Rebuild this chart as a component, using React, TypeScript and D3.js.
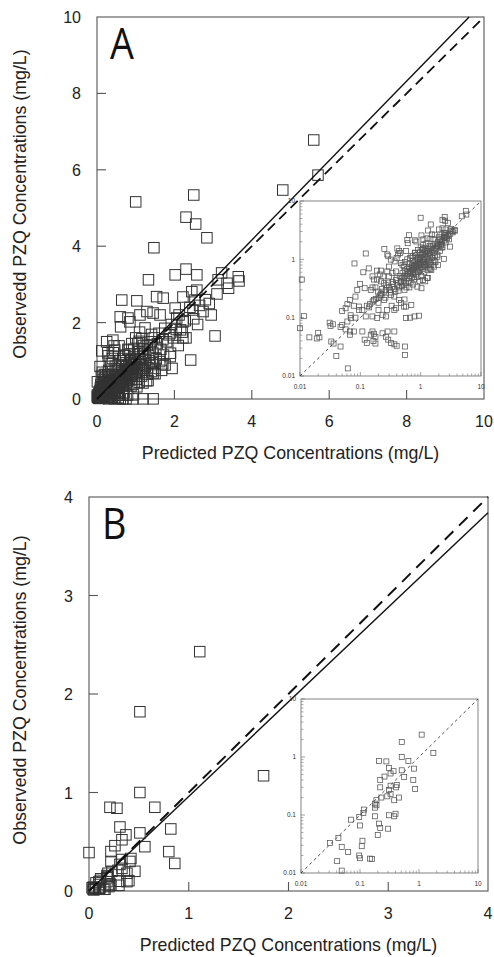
import React from "react";
import * as d3 from "d3";

// Panel A: [predicted, observed] (mg/L)
const predA: number[] = [
  5.6, 5.71, 4.8, 1.0, 2.5, 2.3, 2.55, 2.84, 1.47,
  1.33, 2.02, 2.3, 2.58, 3.13, 3.22, 3.36, 3.65, 3.67,
  0.64, 1.03, 3.05, 2.42, 2.74, 0.6, 0.61, 0.85,
  1.54, 1.71, 2.22, 2.45, 2.58, 2.53, 2.48, 2.02, 1.29, 1.45, 1.63, 1.11, 0.8, 2.06, 2.22, 2.16, 2.22, 1.89, 1.89, 1.76, 1.45, 1.19, 1.03, 0.77,
  0.08, 0.25, 0.41, 0.46,
  0.67, 0.93, 1.19, 1.45, 0.75, 0.6, 0.3, 0.45,
  1.24, 1.41, 1.16, 1.09, 1.94, 1.67, 1.5, 1.28, 1.02, 0.81, 0.74, 0.67, 0.57, 0.44, 0.42, 0.4, 0.47, 0.53, 0.37, 0.32, 0.3, 0.28, 0.29,
  0.123, 0.112, 0.138, 0.188, 0.219, 0.178, 0.159, 0.248, 0.265, 0.197, 0.149, 0.118, 0.099, 0.089, 0.083, 0.067, 0.061, 0.05, 0.057, 0.078,
  0.095, 0.108, 0.128, 0.145, 0.169, 0.2, 0.225, 0.248, 0.322, 0.366, 0.44, 0.54, 0.65, 0.74, 0.88, 0.96, 1.09, 1.32, 1.41, 1.19,
  1.09, 0.96, 0.84, 0.74, 0.63, 0.54, 0.47, 0.4, 0.34, 0.3, 0.28, 0.34, 0.39, 0.24, 0.21, 0.19, 0.169, 0.159, 0.219,
  0.57, 0.67, 0.79, 0.94, 0.39, 0.33, 0.277, 0.366, 0.47, 0.53, 0.57, 0.7, 0.54, 0.233, 0.265, 0.19, 0.159, 0.123, 0.095, 0.083,
  0.069, 0.07, 0.061, 0.05, 0.057, 0.047, 0.035, 0.031, 0.032, 0.067, 0.067, 0.078, 0.108, 0.159, 0.169, 0.233, 0.283, 0.366, 0.265, 0.29,
  0.322, 0.366, 0.4, 0.55, 0.55, 0.178, 0.149, 0.118, 0.128, 0.165, 0.178, 0.047, 0.036, 0.04, 0.02, 0.019, 0.021, 0.0143, 0.0107, 0.01,
  0.0117, 0.033, 0.062, 0.2,
  0.45, 0.48, 0.5, 0.52, 0.55, 0.58, 0.6, 0.62, 0.64, 0.66, 0.68, 0.7, 0.72, 0.74, 0.76, 0.78, 0.8, 0.82, 0.84, 0.86,
  0.88, 0.9, 0.92, 0.94, 0.96, 0.98, 1.0, 1.02, 1.05, 1.08, 1.1, 1.12, 1.15, 1.18, 1.2, 1.23, 1.26, 1.3, 1.33, 1.36,
  1.4, 1.44, 1.48, 1.52, 1.56, 1.6, 1.65, 1.7, 1.75, 1.8, 1.86, 1.92, 1.98, 2.05, 2.12, 2.2, 2.28, 2.4, 2.5, 2.65,
  2.8, 2.95, 3.1, 0.35, 0.37, 0.39, 0.41, 0.43, 0.46, 0.49, 0.53, 0.57, 0.6, 0.63, 0.67, 0.71, 0.75, 0.79, 0.83, 0.87,
  0.91, 0.95, 0.99, 1.04, 1.09, 1.14, 1.19, 1.25, 1.31, 1.38, 1.45, 1.53, 1.62, 1.72, 0.5, 0.55, 0.6, 0.7, 0.8, 0.9,
  1.0, 1.1, 1.2, 0.65, 0.75, 0.85, 0.95, 1.05, 0.3, 0.27, 0.25, 0.23, 0.32, 0.34, 0.29, 0.21, 0.18, 0.2, 0.16, 0.14,
  0.22, 0.26, 0.31, 0.38, 0.44, 0.52, 0.58, 0.68, 0.78, 0.88, 1.15, 1.3, 1.5, 1.7, 1.9, 2.1, 2.3, 2.6, 2.9, 3.4,
];
const obsA: number[] = [
  6.78, 5.86, 5.47, 5.16, 5.34, 4.76, 4.58, 4.22, 3.96,
  3.12, 3.25, 3.4, 3.25, 3.12, 3.3, 3.03, 3.2, 3.09,
  2.59, 2.57, 1.65, 1.02, 2.29, 2.15, 1.89, 2.02,
  2.68, 2.64, 2.67, 2.81, 2.85, 2.59, 2.33, 2.38, 2.29, 2.25, 2.2, 2.2, 2.12, 2.12, 2.02, 1.81, 1.6, 1.73, 1.11, 0.89, 0.68, 0.42, 0.32, 0.5,
  0.85, 1.5, 1.54, 1.28,
  0.004, 0.003, 0.004, 0.004, 0.004, 0.005, 0.004, 0.005,
  1.86, 1.69, 1.58, 1.51, 0.8, 0.75, 0.66, 0.48, 0.52, 1.28, 1.13, 1.06, 1.39, 1.39, 1.21, 1.06, 0.86, 0.75, 0.92, 0.99, 0.75, 1.21, 1.13,
  1.26, 0.6, 0.7, 0.64, 0.42, 0.33, 0.33, 0.39, 0.3, 0.28, 0.3, 0.32, 0.38, 0.3, 0.23, 0.2, 0.17, 0.13, 0.145, 0.16,
  0.155, 0.135, 0.16, 0.17, 0.2, 0.22, 0.245, 0.2, 0.245, 0.23, 0.2, 0.3, 0.33, 0.37, 0.34, 0.42, 0.44, 0.48, 0.72, 0.8,
  0.91, 0.99, 0.8, 0.72, 0.62, 0.52, 0.41, 0.48, 0.41, 0.51, 0.62, 0.58, 0.62, 0.51, 0.55, 0.45, 0.45, 0.51, 0.64,
  0.099, 0.1, 0.105, 0.108, 0.145, 0.16, 0.135, 0.135, 0.178, 0.155, 0.155, 0.165, 0.205, 0.112, 0.105, 0.099, 0.105, 0.105, 0.135, 0.1,
  0.11, 0.098, 0.086, 0.075, 0.063, 0.069, 0.077, 0.082, 0.072, 0.051, 0.058, 0.058, 0.058, 0.058, 0.053, 0.054, 0.058, 0.058, 0.047, 0.042,
  0.037, 0.035, 0.033, 0.032, 0.023, 0.047, 0.051, 0.042, 0.037, 0.04, 0.036, 0.032, 0.036, 0.022, 0.055, 0.044, 0.046, 0.046, 0.45, 0.066,
  0.106, 0.039, 0.0135, 0.135,
  0.52, 0.47, 0.58, 0.49, 0.63, 0.55, 0.68, 0.57, 0.74, 0.61, 0.7, 0.64, 0.79, 0.66, 0.85, 0.72, 0.77, 0.9, 0.7, 0.95,
  0.81, 1.02, 0.86, 0.78, 1.1, 0.91, 1.05, 0.84, 1.18, 0.97, 1.25, 1.03, 0.9, 1.32, 1.1, 1.2, 1.02, 1.4, 1.15, 1.28,
  1.5, 1.22, 1.6, 1.35, 1.45, 1.72, 1.3, 1.55, 1.85, 1.5, 1.68, 1.95, 1.6, 1.82, 2.2, 1.75, 2.05, 2.4, 2.1, 2.45,
  2.6, 2.2, 2.75, 0.38, 0.31, 0.44, 0.36, 0.29, 0.4, 0.35, 0.43, 0.39, 0.47, 0.42, 0.52, 0.48, 0.56, 0.6, 0.55, 0.64,
  0.6, 0.7, 0.66, 0.74, 0.69, 0.8, 0.76, 0.86, 0.82, 0.95, 0.9, 1.05, 0.98, 1.15, 0.8, 0.9, 1.0, 1.15, 1.3, 1.45,
  1.6, 1.75, 1.4, 0.85, 0.95, 1.18, 1.3, 1.45, 0.33, 0.36, 0.28, 0.31, 0.27, 0.34, 0.4, 0.24, 0.21, 0.18, 0.19, 0.15,
  0.26, 0.22, 0.3, 0.28, 0.33, 0.37, 0.33, 0.4, 0.45, 0.5, 0.6, 0.65, 0.8, 0.92, 1.2, 1.4, 1.6, 1.95, 2.5, 2.9,
];

// Panel B
const predB: number[] = [
  1.11, 1.75, 0.51, 0.51, 0.66, 0.82, 0.51, 0.56, 0.8, 0.86, 0.21, 0.28, 0.31, 0.37, 0.33, 0.26, 0.22, 0.33, 0.42, 0.22,
  0.31, 0.41, 0.19, 0.23, 0.29, 0.33, 0.46, 0.38, 0.18, 0.19, 0.18, 0.117, 0.097, 0.114, 0.07, 0.18, 0.31, 0.38, 0.4, 0.21,
  0.22, 0.3, 0.2, 0.1, 0.11, 0.107, 0.097, 0.1, 0.148, 0.16, 0.041, 0.049, 0.031, 0.043, 0.049, 0.063, 0.0,
];
const obsB: number[] = [
  2.43, 1.17, 1.82, 1.0, 0.85, 0.63, 0.59, 0.45, 0.4, 0.28, 0.85, 0.84, 0.65, 0.57, 0.52, 0.46, 0.4, 0.32, 0.33, 0.3,
  0.27, 0.3, 0.18, 0.2, 0.21, 0.23, 0.2, 0.18, 0.157, 0.147, 0.134, 0.124, 0.092, 0.108, 0.083, 0.095, 0.099, 0.095, 0.105, 0.071,
  0.06, 0.058, 0.045, 0.066, 0.036, 0.029, 0.02, 0.018, 0.0177, 0.0174, 0.016, 0.011, 0.033, 0.04, 0.028, 0.023, 0.39,
];

const ticksA = [0, 2, 4, 6, 8, 10];
const ticksB = [0, 1, 2, 3, 4];
const logTicks = [0.01, 0.1, 1, 10];
const slopeA = 1.04;
const slopeB = 0.96;
const xTitle = "Predicted PZQ Concentrations (mg/L)";
const yTitle = "Observedd PZQ Concentrations (mg/L)";

const FONT = "'Liberation Sans', Arial, sans-serif";
const AX = "#555";

function LogInset({ px, py, x0, x1, y0, y1 }: any) {
  const x = d3.scaleLog().domain([0.01, 10]).range([x0, x1]);
  const y = d3.scaleLog().domain([0.01, 10]).range([y1, y0]);
  const minors: number[] = [];
  [0.01, 0.1, 1].forEach((d) => {
    for (let k = 2; k <= 9; k++) minors.push(d * k);
  });
  const pts = px
    .map((v: number, i: number) => [v, py[i]])
    .filter((p: number[]) => p[0] >= 0.01 && p[1] >= 0.01 && p[0] <= 10 && p[1] <= 10);
  const s = 5;
  return (
    <g>
      <rect x={x0} y={y0} width={x1 - x0} height={y1 - y0} fill="#fff" stroke="#777" strokeWidth={0.9} />
      {minors.map((m, i) => (
        <g key={i} stroke="#777" strokeWidth={0.6}>
          <line x1={x(m)} x2={x(m)} y1={y1} y2={y1 - 2.5} />
          <line x1={x0} x2={x0 + 2.5} y1={y(m)} y2={y(m)} />
        </g>
      ))}
      {logTicks.map((t, i) => (
        <g key={i} stroke="#777" strokeWidth={0.7}>
          <line x1={x(t)} x2={x(t)} y1={y1} y2={y1 - 4} />
          <line x1={x0} x2={x0 + 4} y1={y(t)} y2={y(t)} />
        </g>
      ))}
      <line x1={x(0.01)} y1={y(0.01)} x2={x(10)} y2={y(10)} stroke="#222" strokeWidth={0.8} strokeDasharray="3,3" />
      {pts.map((p: number[], i: number) => (
        <rect key={i} x={x(p[0]) - s / 2} y={y(p[1]) - s / 2} width={s} height={s} fill="none" stroke="#555" strokeWidth={0.75} />
      ))}
      {logTicks.map((t, i) => (
        <text key={"x" + i} x={x(t)} y={y1 + 13} fontSize={6.5} textAnchor="middle" fontFamily={FONT} fill="#333">
          {String(t)}
        </text>
      ))}
      {logTicks.map((t, i) => (
        <text key={"y" + i} x={x0 - 5} y={y(t) + 2.3} fontSize={6.5} textAnchor="end" fontFamily={FONT} fill="#333">
          {String(t)}
        </text>
      ))}
    </g>
  );
}

function Panel({ px, py, max, ticks, slope, x0, x1, y0, y1, letter, dash, dashW, inset }: any) {
  const x = d3.scaleLinear().domain([0, max]).range([x0, x1]);
  const y = d3.scaleLinear().domain([0, max]).range([y1, y0]);
  const s = 10.5;
  const solidEnd = Math.min(max, max / slope);
  return (
    <g>
      <rect x={x0} y={y0} width={x1 - x0} height={y1 - y0} fill="none" stroke={AX} strokeWidth={1.1} />
      {ticks.map((t: number, i: number) => (
        <g key={i}>
          {t > 0 && t < max && (
            <>
              <line x1={x(t)} x2={x(t)} y1={y1} y2={y1 - 9} stroke={AX} strokeWidth={1.1} />
              <line x1={x0} x2={x0 + 9} y1={y(t)} y2={y(t)} stroke={AX} strokeWidth={1.1} />
            </>
          )}
          <text x={x(t)} y={y1 + 28} fontSize={16} textAnchor="middle" fontFamily={FONT} fill="#222">{t}</text>
          <text x={x0 - 16} y={y(t) + 6} fontSize={16} textAnchor="end" fontFamily={FONT} fill="#222">{t}</text>
        </g>
      ))}
      {px.map((v: number, i: number) => (
        <rect key={i} x={x(v) - s / 2} y={y(py[i]) - s / 2} width={s} height={s} fill="none" stroke="#333" strokeWidth={1} />
      ))}
      <line x1={x(0)} y1={y(0)} x2={x(max)} y2={y(max)} stroke="#111" strokeWidth={dashW} strokeDasharray={dash} />
      <line x1={x(0)} y1={y(0)} x2={x(solidEnd)} y2={y(solidEnd * slope)} stroke="#111" strokeWidth={1.4} />
      <text transform={`translate(${x0 + 13},${y0 + 42}) scale(0.86,1)`} fontSize={44} fontFamily="'Open Sans', Lato, sans-serif" fill="#111">{letter}</text>
      <text x={(x0 + x1) / 2} y={y1 + 60} fontSize={17.8} textAnchor="middle" fontFamily={FONT} fill="#222">{xTitle}</text>
      <text transform={`translate(26,${(y0 + y1) / 2 - 4}) rotate(-90)`} fontSize={17.8} textAnchor="middle" fontFamily={FONT} fill="#222">{yTitle}</text>
      {inset}
    </g>
  );
}

export default function App() {
  return (
    <div style={{ position: "absolute", left: 0, top: 0 }}>
      <svg width={494} height={957} style={{ display: "block", background: "#fff" }}>
        <Panel px={predA} py={obsA} max={10} ticks={ticksA} slope={slopeA} x0={97} x1={484} y0={17} y1={399} letter="A" dash="10,6" dashW={1.8}
          inset={<LogInset px={predA} py={obsA} x0={300} x1={481} y0={201} y1={376} />} />
        <Panel px={predB} py={obsB} max={4} ticks={ticksB} slope={slopeB} x0={89} x1={488} y0={497} y1={891} letter="B" dash="12,8" dashW={2}
          inset={<LogInset px={predB} py={obsB} x0={301} x1={478} y0={699} y1={873} />} />
      </svg>
    </div>
  );
}
